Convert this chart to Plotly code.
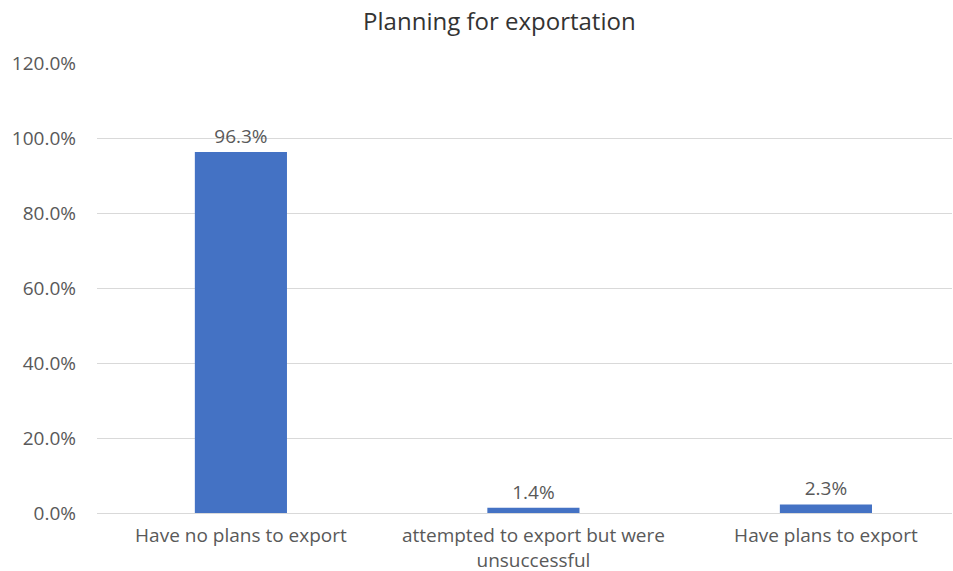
import plotly.graph_objects as go

categories = ["Have no plans to export",
              "attempted to export but were<br>unsuccessful",
              "Have plans to export"]
shares = [96.3, 1.4, 2.3]
tick_vals = [0, 20, 40, 60, 80, 100, 120]
tick_text = ["0.0%", "20.0%", "40.0%", "60.0%", "80.0%", "100.0%", "120.0%"]

FONT = "Open Sans"
GREY = "#595959"

fig = go.Figure(go.Bar(
    x=[0, 1, 2],
    y=shares,
    width=0.315,
    marker=dict(color="#4472C4", line=dict(width=0)),
    text=[f"{v:.1f}%" for v in shares],
    textposition="outside",
    textfont=dict(family=FONT, size=19, color=GREY),
    cliponaxis=False,
))

fig.update_layout(
    width=953, height=571,
    margin=dict(l=97, r=1, t=63, b=58),
    paper_bgcolor="white", plot_bgcolor="white",
    title=dict(text="Planning for exportation", x=0.524, xanchor="center",
               y=0.962, yanchor="middle",
               font=dict(family=FONT, size=24, color="#333333")),
    showlegend=False,
)
fig.update_xaxes(range=[-0.492, 2.431], tickvals=[0, 1, 2], ticktext=categories,
                 showline=True, linecolor="#d9d9d9", linewidth=1,
                 tickfont=dict(family=FONT, size=19, color=GREY),
                 ticks="", showgrid=False, ticklabelstandoff=5,
                 automargin=False)
fig.update_yaxes(range=[0, 120.05], tickvals=tick_vals, ticktext=tick_text,
                 showgrid=True, gridcolor="#d9d9d9", gridwidth=1,
                 zeroline=False, showline=False, ticks="",
                 ticklabelstandoff=20, automargin=False,
                 tickfont=dict(family=FONT, size=19, color=GREY))

fig.write_html("out.html")
